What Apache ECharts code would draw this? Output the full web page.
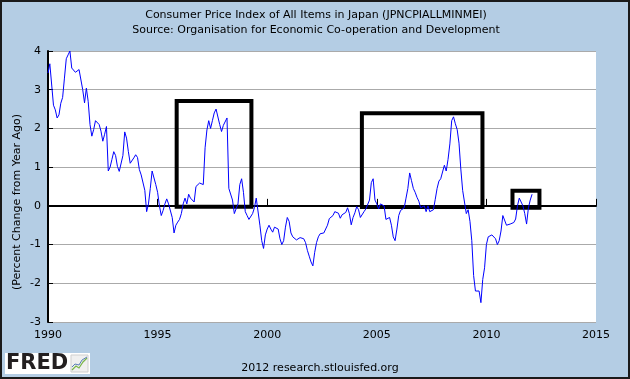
<!DOCTYPE html>
<html>
<head>
<meta charset="utf-8">
<script src="https://cdn.jsdelivr.net/npm/echarts@6/dist/echarts.min.js"></script>
<style>
html,body{margin:0;padding:0;background:#b4cde4;}
#chart{width:630px;height:379px;}
</style>
</head>
<body>
<div id="chart"></div>
<script>
// Monthly year-over-year % change, Jan 1990 onward
var startYear = 1990;
var cpiYoY = [
  3.43, 3.67, 3.67, 2.6, 2.48, 2.27, 2.35, 2.65, 2.8, 3.3, 3.8, 3.9,
  4.0, 3.56, 3.6, 3.45, 3.47, 3.52, 3.47, 3.0, 2.66, 3.04, 2.7, 2.1,
  1.8, 1.97, 2.2, 2.2, 2.1, 1.93, 1.67, 1.85, 2.05, 0.9, 1.0, 1.2,
  1.4, 1.3, 1.02, 0.89, 0.89, 1.3, 1.91, 1.75, 1.4, 1.1, 1.15, 1.24,
  1.32, 1.25, 0.94, 0.8, 0.76, 0.4, -0.15, 0.05, 0.45, 0.9, 0.85, 0.55,
  0.35, 0.0, -0.25, -0.12, 0.05, 0.18, 0.05, 0.05, -0.3, -0.7, -0.5, -0.42,
  -0.35, -0.2, 0.05, 0.2, 0.05, 0.3, 0.2, 0.25, 0.1, 0.5, 0.55, 0.59,
  0.59, 0.55, 1.5, 1.96, 2.2, 2.0, 2.2, 2.4, 2.5, 2.5, 2.1, 1.92,
  2.08, 2.1, 2.27, 0.45, 0.45, 0.15, -0.2, -0.2, 0.05, 0.55, 0.7, 0.35,
  -0.15, -0.25, -0.35, -0.3, -0.2, -0.05, 0.2, 0.2, -0.5, -0.9, -1.1, -0.75,
  -0.6, -0.5, -0.6, -0.68, -0.55, -0.5, -0.6, -0.85, -1.0, -0.9, -0.55, -0.3,
  -0.4, -0.7, -0.8, -0.8, -0.88, -0.88, -0.82, -0.78, -0.85, -0.95, -1.15, -1.3,
  -1.45, -1.55, -1.2, -0.95, -0.8, -0.72, -0.75, -0.7, -0.72, -0.5, -0.33, -0.38,
  -0.25, -0.15, -0.1, -0.19, -0.32, -0.23, -0.19, -0.17, -0.05, -0.2, -0.49, -0.3,
  -0.18, -0.02, -0.1, -0.3, -0.25, -0.15, -0.08, -0.12, 0.15, 0.6, 0.7, 0.15,
  0.05, -0.08, 0.05, 0.1, 0.0, -0.35, -0.3, -0.3, -0.5, -0.8, -0.9, -0.6,
  -0.25, -0.12, -0.17, -0.05, 0.2, 0.45, 0.85, 0.65, 0.45, 0.35, 0.22, 0.12,
  -0.05, -0.1, 0.0, -0.15, 0.0, -0.15, -0.2, -0.1, 0.17, 0.45, 0.64, 0.7,
  0.75, 1.05, 0.9, 1.2, 1.6, 2.2, 2.3, 2.12, 1.97, 1.62, 0.95, 0.4,
  0.1, -0.2, -0.1, -0.4, -0.9, -1.8, -2.2, -2.2, -2.2, -2.5, -1.9, -1.6,
  -1.0, -0.8, -0.8, -0.75, -0.7, -0.85, -1.0, -0.9, -0.65, -0.25, -0.3, -0.5,
  -0.5, -0.47, -0.47, -0.43, -0.34, 0.0, 0.2, 0.2, 0.0, -0.2, -0.47, -0.05,
  0.15, 0.3
];
var xTicks = [1990, 1995, 2000, 2005, 2010, 2015];
var yTicks = [-3, -2, -1, 0, 1, 2, 3, 4];
// Highlight boxes: [yearStart, valueBottom, yearEnd, valueTop]
var boxes = [
  [1995.87, -0.02, 1999.28, 2.71],
  [2004.32, -0.03, 2009.82, 2.39],
  [2011.19, -0.05, 2012.42, 0.39]
];
var titleText = 'Consumer Price Index of All Items in Japan (JPNCPIALLMINMEI)';
var subText = 'Source: Organisation for Economic Co-operation and Development';
var yName = '(Percent Change from Year Ago)';
var footer = '2012 research.stlouisfed.org';

var seriesData = cpiYoY.map(function (v, i) { return [startYear + i / 12, v]; });
var FONT = 'DejaVu Sans';

var chart = echarts.init(document.getElementById('chart'), null, {renderer: 'canvas'});
chart.setOption({
  animation: false,
  backgroundColor: '#b4cde4',
  grid: {left: 48, right: 34, top: 51, bottom: 57, show: true, backgroundColor: '#ffffff', borderWidth: 0},
  xAxis: {
    type: 'value', min: xTicks[0], max: xTicks[xTicks.length - 1], interval: 5,
    axisLine: {lineStyle: {color: '#000', width: 2}},
    axisTick: {inside: true, length: 7, lineStyle: {color: '#000', width: 1}},
    axisLabel: {color: '#000', fontFamily: FONT, fontSize: 11, margin: 8,
      formatter: function (v) { return String(v); }},
    splitLine: {show: false}
  },
  yAxis: {
    type: 'value', min: yTicks[0], max: yTicks[yTicks.length - 1], interval: 1,
    axisLine: {show: true, lineStyle: {color: '#000', width: 2}},
    axisTick: {show: true, inside: true, length: 5, lineStyle: {color: '#000', width: 1}},
    axisLabel: {color: '#000', fontFamily: FONT, fontSize: 11, margin: 7},
    splitLine: {show: true, lineStyle: {color: '#aaaaaa', width: 1}}
  },
  series: [{
    type: 'line',
    data: seriesData,
    showSymbol: false,
    symbol: 'none',
    lineStyle: {color: '#0000ff', width: 1},
    silent: true,
    markArea: {
      silent: true,
      itemStyle: {color: 'rgba(0,0,0,0)', borderColor: '#000', borderWidth: 4},
      data: boxes.map(function (b) { return [{coord: [b[0], b[1]]}, {coord: [b[2], b[3]]}]; })
    }
  }],
  graphic: [
    {type: 'rect', z: 100, shape: {x: 1, y: 1, width: 628, height: 377},
      style: {fill: 'none', stroke: '#1a1a1a', lineWidth: 2}},
    {type: 'text', x: 316, y: 15, style: {text: titleText, font: '11px ' + FONT, fill: '#000', align: 'center', verticalAlign: 'middle'}},
    {type: 'text', x: 316, y: 30, style: {text: subText, font: '11px ' + FONT, fill: '#000', align: 'center', verticalAlign: 'middle'}},
    {type: 'text', x: 17, y: 202, rotation: Math.PI / 2,
      style: {text: yName, font: '11px ' + FONT, fill: '#000', align: 'center', verticalAlign: 'middle'}},
    {type: 'text', x: 320, y: 368, style: {text: footer, font: '11px ' + FONT, fill: '#000', align: 'center', verticalAlign: 'middle'}},
    {type: 'rect', shape: {x: 5, y: 353, width: 85, height: 21}, style: {fill: '#ffffff'}},
    {type: 'text', x: 6, y: 364, style: {text: 'FRED', font: 'bold 21px ' + FONT, fill: '#231f20', verticalAlign: 'middle'}},
    {type: 'rect', shape: {x: 71, y: 355, width: 17, height: 17}, style: {fill: '#f0f0f0', stroke: '#cfcfcf', lineWidth: 1}},
    {type: 'polyline', shape: {points: [[72, 370], [76, 366], [79, 368], [83, 362], [87, 358]]}, style: {stroke: '#7ab648', lineWidth: 1.2, fill: 'none'}},
    {type: 'polyline', shape: {points: [[72, 367], [75, 364], [79, 365], [82, 360], [87, 357]]}, style: {stroke: '#5b7fb8', lineWidth: 1, fill: 'none'}}
  ]
});
</script>
</body>
</html>
